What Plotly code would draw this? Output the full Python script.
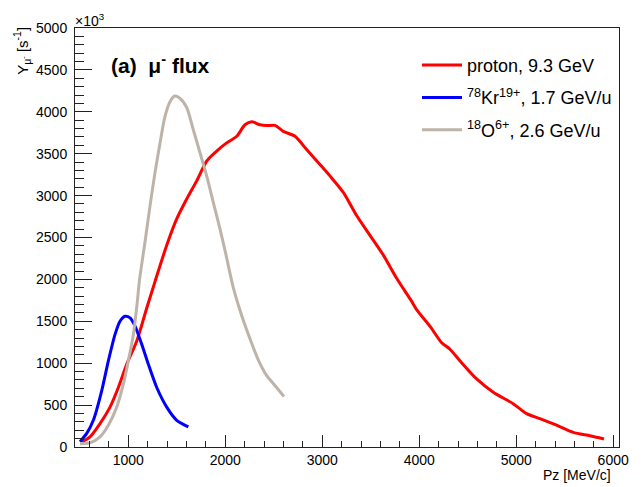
import plotly.graph_objects as go

# proton, 9.3 GeV (Pz in MeV/c, yield in 10^3 s^-1)
proton_x = [523, 605, 708, 811, 898, 984, 1087, 1190, 1275, 1396, 1499, 1602, 1705, 1808, 1911,
            2014, 2118, 2203, 2272, 2358, 2427, 2512, 2598, 2719, 2839, 2976, 3079, 3217, 3354,
            3492, 3630, 3767, 3922, 3973, 4110, 4231, 4317, 4420, 4592, 4763, 4969, 5107, 5244,
            5416, 5588, 5760, 5905]
proton_y = [63, 122, 280, 476, 713, 989, 1265, 1658, 1974, 2408, 2722, 2959, 3176, 3412, 3531,
            3629, 3708, 3845, 3880, 3845, 3836, 3838, 3767, 3708, 3550, 3372, 3235, 3038, 2762,
            2526, 2290, 2013, 1738, 1640, 1442, 1245, 1167, 1028, 812, 654, 517, 398, 339,
            260, 174, 134, 95]

# 78Kr19+, 1.7 GeV/u
kr_x = [502, 571, 639, 726, 794, 863, 914, 966, 1018, 1069, 1138, 1206, 1292, 1396, 1499, 1619]
kr_y = [63, 162, 319, 674, 1028, 1344, 1501, 1560, 1540, 1442, 1226, 989, 713, 476, 319, 240]

# 18O6+, 2.6 GeV/u
o_x = [502, 605, 708, 794, 880, 949, 1000, 1052, 1093, 1113, 1172, 1224, 1275, 1327, 1378, 1430,
       1481, 1533, 1602, 1670, 1739, 1808, 1876, 1945, 2000, 2083, 2169, 2255, 2340, 2427, 2512, 2605]
o_y = [40, 50, 122, 260, 476, 752, 1028, 1344, 1737, 1974, 2447, 2880, 3274, 3629, 3944, 4121,
       4188, 4161, 4051, 3786, 3511, 3235, 2920, 2604, 2330, 1900, 1570, 1290, 1040, 851, 733, 603]

series_names = ["proton, 9.3 GeV",
                "<sup>78</sup>Kr<sup>19+</sup>, 1.7 GeV/u",
                "<sup>18</sup>O<sup>6+</sup>, 2.6 GeV/u"]
series_colors = ["#ff0000", "#0000ff", "#bdb3a9"]

x_ticks = [1000, 2000, 3000, 4000, 5000, 6000]
y_ticks = [0, 500, 1000, 1500, 2000, 2500, 3000, 3500, 4000, 4500, 5000]

FONT = "Liberation Sans, Arial, sans-serif"

fig = go.Figure()
for i, (xs, ys) in enumerate([(proton_x, proton_y), (kr_x, kr_y), (o_x, o_y)]):
    fig.add_trace(go.Scatter(x=xs, y=ys, mode="lines", name=series_names[i],
                             legendgroup=f"g{i}",
                             line=dict(color=series_colors[i], width=3,
                                       shape="spline", smoothing=0.7)))

# page body has an 8px default margin: compensate so the frame lands at 75..619 x 24..447
fig.update_layout(
    width=644, height=487,
    margin=dict(l=67, r=33, t=16, b=48),
    paper_bgcolor="white", plot_bgcolor="white",
    font=dict(family=FONT, size=14, color="black"),
    showlegend=True,
    legend=dict(x=(417 - 75) / 544, y=(447 - 43) / 423, xanchor="left", yanchor="top",
                bgcolor="rgba(0,0,0,0)", font=dict(size=18, family=FONT),
                tracegroupgap=6, itemwidth=40),
    xaxis=dict(range=[450, 6060], tickvals=x_ticks, ticktext=[str(v) for v in x_ticks],
               ticks="inside", ticklen=12, tickcolor="#222", showgrid=False, zeroline=False,
               showline=True, linecolor="#222", linewidth=1, mirror=True,
               minor=dict(dtick=200, tick0=0, ticks="inside", ticklen=6, tickcolor="#222", showgrid=False),
               tickfont=dict(size=14)),
    yaxis=dict(range=[0, 5000], tickvals=y_ticks, ticktext=[str(v) for v in y_ticks],
               ticks="inside", ticklen=17, tickcolor="#222", showgrid=False, zeroline=False,
               showline=True, linecolor="#222", linewidth=1, mirror=True,
               minor=dict(dtick=100, tick0=0, ticks="inside", ticklen=9, tickcolor="#222", showgrid=False),
               tickfont=dict(size=14), ticklabelstandoff=4),
)

fig.add_annotation(xref="paper", yref="paper", x=(109 - 75) / 544, y=(447 - 60) / 423,
                   xanchor="left", yanchor="middle", showarrow=False,
                   text="<b>(a)  μ<sup>-</sup> flux</b>", font=dict(size=21, family=FONT))
fig.add_annotation(xref="paper", yref="paper", x=(22 - 75) / 544, y=(447 - 47) / 423,
                   xanchor="center", yanchor="middle", showarrow=False, textangle=-90,
                   text="Y<sub>μ<sup>-</sup></sub> [s<sup>-1</sup>]", font=dict(size=15, family=FONT))
fig.add_annotation(xref="paper", yref="paper", x=0, y=1, xanchor="left", yanchor="bottom",
                   showarrow=False, text="×10<sup>3</sup>", font=dict(size=14, family=FONT),
                   xshift=-2, yshift=-3)
fig.add_annotation(xref="paper", yref="paper", x=(613 - 75) / 544, y=(447 - 475) / 423,
                   xanchor="right", yanchor="middle", showarrow=False,
                   text="Pz [MeV/c]", font=dict(size=14, family=FONT))

fig.write_html("out.html")
